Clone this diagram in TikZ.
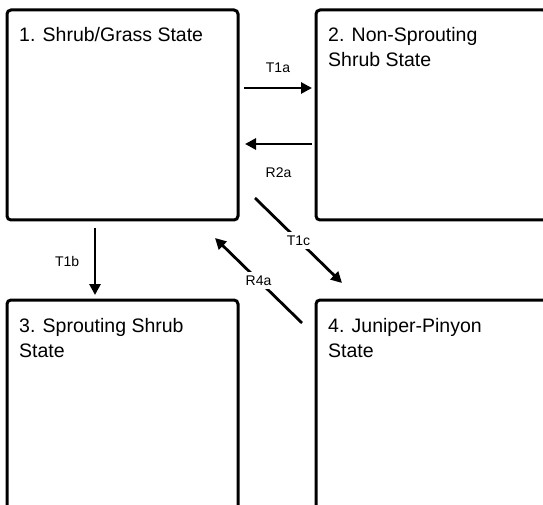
\documentclass[tikz,border=0pt]{standalone}
\usepackage{fontspec}
\setmainfont{Liberation Sans}
\usetikzlibrary{arrows.meta, positioning}
\tikzset{
  state box/.style={
    draw=black, line width=3pt, rounded corners=4pt,
    minimum width=231pt, minimum height=210pt,
    inner sep=0pt, outer sep=0pt
  },
  state title/.style={
    anchor=base west, inner sep=0pt, align=left,
    font=\fontsize{19.5}{25}\selectfont
  },
  trans/.style={
    -{Triangle[length=11pt,width=11pt]}, line width=2.8pt
  },
  trans label/.style={font=\fontsize{14}{16}\selectfont}
}

\begin{document}
\begin{tikzpicture}[x=1pt,y=1pt]
    \useasboundingbox (0,0) rectangle (543,504);
    \clip (0,0) rectangle (543,504);

    % the four state boxes
    \node[state box] (b1) at (122.5,389) {};
    \node[state box, right=78pt of b1] (b2) {};
    \node[state box, below=80pt of b1] (b3) {};
    \node[state box, right=78pt of b3] (b4) {};

    % state names, top left in each box (base = last line)
    \node[state title] (t1) at ([xshift=12pt,yshift=-32pt]b1.north west) {1. Shrub/Grass State};
    \node[state title] (t2) at ([xshift=12pt,yshift=-57pt]b2.north west) {2. Non-Sprouting\\Shrub State};
    \node[state title] (t3) at ([xshift=12pt,yshift=-57pt]b3.north west) {3. Sprouting Shrub\\State};
    \node[state title] (t4) at ([xshift=12pt,yshift=-57pt]b4.north west) {4. Juniper-Pinyon\\State};

    % transitions and restorations
    \draw[trans] ([xshift=6pt,yshift=27pt]b1.east) -- node[trans label, above=11pt] {T1a} ([xshift=-4pt,yshift=27pt]b2.west);
    \draw[trans] ([xshift=-4pt,yshift=-29pt]b2.west) -- node[trans label, below=19pt] {R2a} ([xshift=7pt,yshift=-29pt]b1.east);
    \draw[trans] ([xshift=-27.5pt,yshift=-8pt]b1.south) -- node[trans label, left=11pt] {T1b} ([xshift=-27.5pt,yshift=5pt]b3.north);
    \draw[trans] ([xshift=17pt,yshift=22pt]b1.south east) -- node[trans label, fill=white] {T1c} ([xshift=26pt,yshift=17pt]b4.north west);
    \draw[trans] ([xshift=-14pt,yshift=-23pt]b4.north west) -- node[trans label, fill=white] {R4a} ([xshift=-23pt,yshift=-18pt]b1.south east);
\end{tikzpicture}
\end{document}
